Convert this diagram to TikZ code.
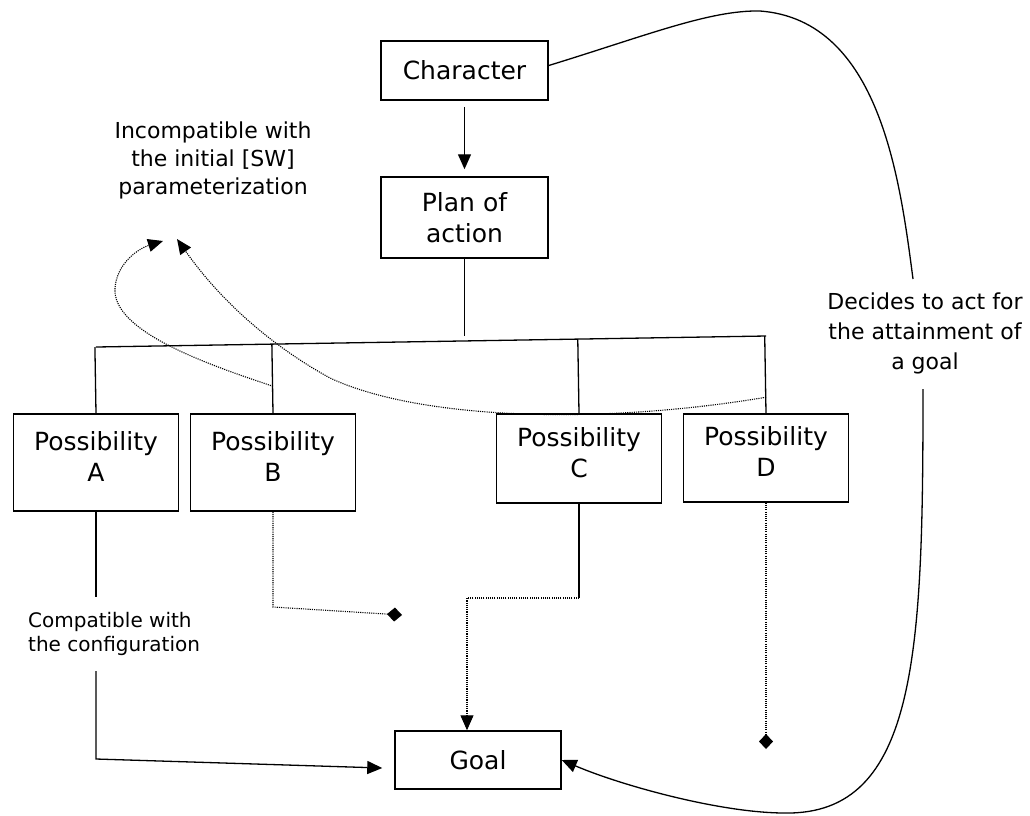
\documentclass[tikz,border=0pt]{standalone}
\usepackage{fontspec}
\setmainfont{DejaVu Sans}
\usetikzlibrary{arrows.meta,calc}

\begin{document}
\begin{tikzpicture}[x=1pt,y=-1pt,
  box/.style={draw,line width=1.5pt,inner sep=0pt,align=center,font=\fontsize{25}{31}\selectfont},
  link/.style={line width=1.3pt},
  dots/.style={line width=1.1pt,dash pattern=on 1.1pt off 1.1pt},
  tip/.style={-{Triangle[length=15pt,width=13pt]}},
  stopmark/.style={-{Diamond[length=15pt,width=14pt]}},
  note/.style={font=\fontsize{22}{28}\selectfont,align=center,inner sep=0pt}]
\useasboundingbox (0,0) rectangle (1030,815);

% boxes
\node[box,minimum width=167pt,minimum height=59pt] (char) at (464.5,70.5) {Character};
\node[box,minimum width=167pt,minimum height=81pt] (plan) at (464.5,217.5) {Plan of\\action};
\node[box,minimum width=165pt,minimum height=97pt] (A) at (96,462.5) {Possibility\\A\vphantom{p}\\[-18pt]};
\node[box,minimum width=165pt,minimum height=97pt] (B) at (273,462.5) {Possibility\\B\vphantom{p}\\[-18pt]};
\node[box,minimum width=165pt,minimum height=89pt] (C) at (579,458.5) {Possibility\\C\vphantom{p}\\[-18pt]};
\node[box,minimum width=165pt,minimum height=88pt] (D) at (766,458) {Possibility\\D\vphantom{p}\\[-18pt]};
\node[box,minimum width=166pt,minimum height=58pt] (goal) at (478,760) {Goal};

% labels
\node[note] (incomp) at (213,160) {Incompatible with\\the initial [SW]\\parameterization};
\node[note,font=\fontsize{20}{24}\selectfont,align=left,anchor=west] (compat) at (28,634)
  {Compatible with\\the configuration};
\node[note,font=\fontsize{22}{30}\selectfont] (decide) at (925,333)
  {Decides to act for\\the attainment of\\a goal};

% character -> plan
\draw[link,tip] ([yshift=-6pt]char.south) -- ([yshift=7pt]plan.north);

% branching bar
\coordinate (barL) at (96,347);
\coordinate (barR) at (766,336);
\draw[link] (plan.south) -- ++(0,77);
\draw[link] (barL) -- (barR);
\foreach \n in {A,B,C,D}
  \draw[link] (\n.north) -- ($(barL)!(\n.north)!(barR)$);

% dotted returns towards the incompatible note
\coordinate (bsplit) at ([yshift=27pt]B.north);
\coordinate (dsplit) at ([yshift=16pt]D.north);
\coordinate (inc1) at (163,241);
\coordinate (inc2) at (177,239);
\draw[dots,tip] (bsplit) .. controls (200,362) and (112,330) .. (115,288)
  .. controls (117,262) and (140,248) .. (inc1);
\draw[dots,tip] (dsplit) .. controls (600,425) and (420,420) .. (330,378)
  .. controls (270,345) and (220,300) .. (inc2);

% possibility A -> goal
\coordinate (a1) at (96,597);
\coordinate (a2) at (96,671);
\coordinate (a3) at (96,759);
\draw[link] (A.south) -- (a1);
\draw[link,tip] (a2) -- (a3) -- ([shift={(-12,8)}]goal.west);

% possibility B: dead end
\coordinate (b1) at (273,607);
\draw[dots,stopmark] (B.south) -- (b1) -- (402,615);

% possibility C -> goal
\coordinate (c1) at (579,598);
\draw[link] (C.south) -- (c1);
\draw[dots,tip] (c1) -| ([xshift=-11pt]goal.north);

% possibility D: dead end
\draw[dots,stopmark] (D.south) -- (766,749);

% character -> goal, long loop on the right
\coordinate (u1) at (913,279);
\coordinate (u2) at (923,389);
\draw[link] ([yshift=5pt]char.east) .. controls (648,35) and (710,10) .. (760,11)
  .. controls (880,20) and (900,180) .. (u1);
\draw[link,tip] (u2) .. controls (923,650) and (918,815) .. (785,813)
  .. controls (720,813) and (620,785) .. (goal.east);
\end{tikzpicture}
\end{document}
